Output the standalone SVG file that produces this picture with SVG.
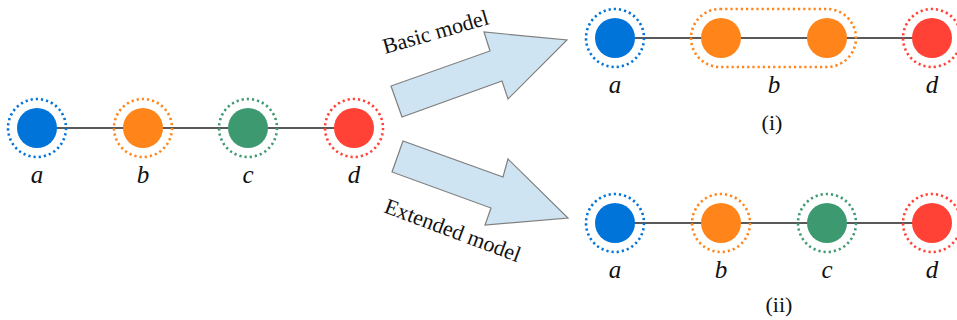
<svg xmlns="http://www.w3.org/2000/svg" width="957" height="320" viewBox="0 0 957 320">
  <style>
    .edge { stroke: #222; stroke-width: 1.6; fill: none; }
    .ring { fill: none; stroke-width: 2.6; stroke-dasharray: 2.2 3; }
    .lbl { font-family: "Liberation Serif", "DejaVu Serif", serif; font-style: italic; font-size: 25px; text-anchor: middle; fill: #111; }
    .cap { font-family: "Liberation Serif", "DejaVu Serif", serif; font-size: 22px; text-anchor: middle; fill: #111; }
    .model { font-family: "Liberation Serif", "DejaVu Serif", serif; font-size: 22px; fill: #111; }
    .arrow { fill: #cfe4f2; stroke: #7f7f7f; stroke-width: 1.2; stroke-linejoin: miter; }
    .blue { fill: #0074d9; } .blueR { stroke: #0074d9; }
    .orange { fill: #ff851b; } .orangeR { stroke: #ff851b; }
    .green { fill: #3d9970; } .greenR { stroke: #3d9970; }
    .red { fill: #ff4136; } .redR { stroke: #ff4136; }
  </style>

  <!-- connectors -->
  <g id="connectors">
    <line class="edge" x1="37" y1="128" x2="354" y2="128"/>
    <line class="edge" x1="615" y1="38" x2="932" y2="38" stroke="#333"/>
    <line class="edge" x1="615" y1="223" x2="932" y2="223" stroke="#333"/>
  </g>

  <!-- transformation arrows -->
  <g id="arrow-basic">
    <polygon class="arrow" points="402,117 391,86 490,51 484,32 567,40 508,99 502,81"/>
    <text class="model" transform="translate(385,54) rotate(-16)">Basic model</text>
  </g>
  <g id="arrow-extended">
    <polygon class="arrow" points="403,141 392,172 491,208 485,225 568,218 508,159 503,177"/>
    <text class="model" transform="translate(383,212) rotate(20.5)">Extended model</text>
  </g>

  <!-- original graph -->
  <g id="orig-a"><circle class="blue" cx="37" cy="128" r="20"/><circle class="ring blueR" cx="37" cy="128" r="29"/><text class="lbl" x="37" y="183">a</text></g>
  <g id="orig-b"><circle class="orange" cx="143" cy="128" r="20"/><circle class="ring orangeR" cx="143" cy="128" r="29"/><text class="lbl" x="143" y="183">b</text></g>
  <g id="orig-c"><circle class="green" cx="248" cy="128" r="20"/><circle class="ring greenR" cx="248" cy="128" r="29"/><text class="lbl" x="248" y="183">c</text></g>
  <g id="orig-d"><circle class="red" cx="354" cy="128" r="20"/><circle class="ring redR" cx="354" cy="128" r="29"/><text class="lbl" x="354" y="183">d</text></g>

  <!-- (i) basic model -->
  <g id="basic-a"><circle class="blue" cx="615" cy="38" r="20"/><circle class="ring blueR" cx="615" cy="38" r="29"/><text class="lbl" x="615" y="93">a</text></g>
  <g id="basic-b">
    <rect class="ring orangeR" x="691" y="9" width="165" height="58" rx="29"/>
    <circle class="orange" cx="721" cy="38" r="20"/>
    <circle class="orange" cx="827" cy="38" r="20"/>
    <text class="lbl" x="774" y="93">b</text>
  </g>
  <g id="basic-d"><circle class="red" cx="932" cy="38" r="20"/><circle class="ring redR" cx="932" cy="38" r="29"/><text class="lbl" x="932" y="93">d</text></g>
  <text class="cap" x="772" y="130">(i)</text>

  <!-- (ii) extended model -->
  <g id="ext-a"><circle class="blue" cx="615" cy="223" r="20"/><circle class="ring blueR" cx="615" cy="223" r="29"/><text class="lbl" x="615" y="278">a</text></g>
  <g id="ext-b"><circle class="orange" cx="721" cy="223" r="20"/><circle class="ring orangeR" cx="721" cy="223" r="29"/><text class="lbl" x="721" y="278">b</text></g>
  <g id="ext-c"><circle class="green" cx="827" cy="223" r="20"/><circle class="ring greenR" cx="827" cy="223" r="29"/><text class="lbl" x="827" y="278">c</text></g>
  <g id="ext-d"><circle class="red" cx="932" cy="223" r="20"/><circle class="ring redR" cx="932" cy="223" r="29"/><text class="lbl" x="932" y="278">d</text></g>
  <text class="cap" x="779" y="312">(ii)</text>
</svg>
